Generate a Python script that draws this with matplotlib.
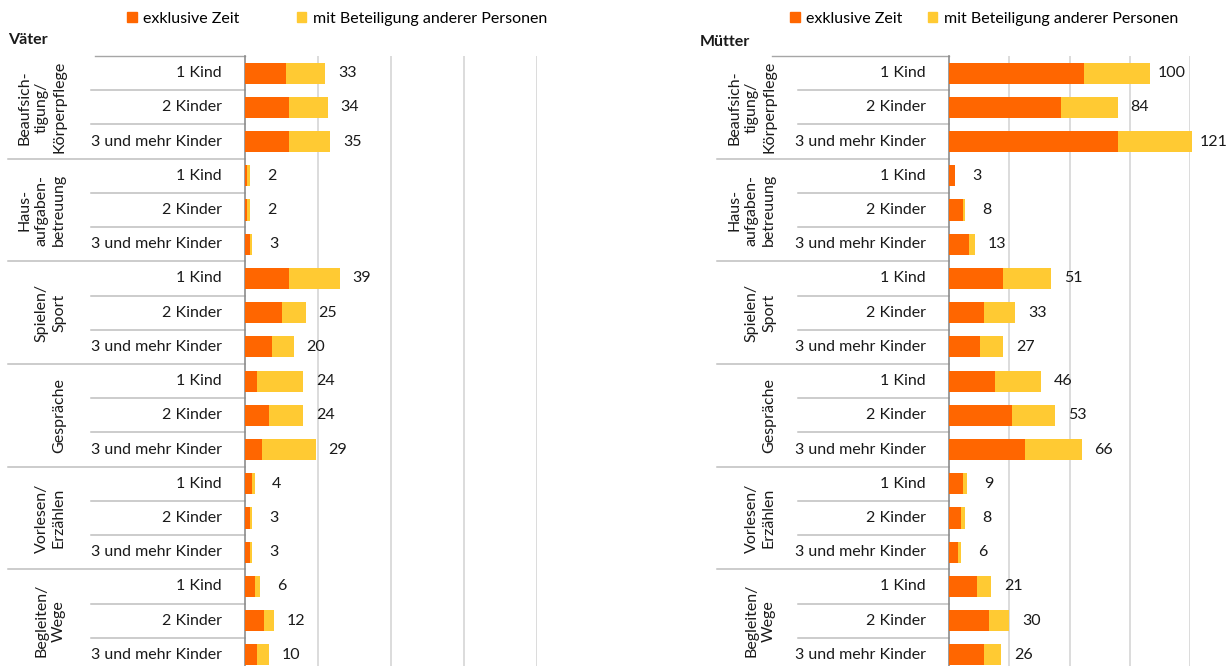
import matplotlib.pyplot as plt
from matplotlib.patches import Patch
from matplotlib.transforms import blended_transform_factory
import numpy as np

plt.rcParams['font.family'] = ['Lato', 'DejaVu Sans']

groups = ["Beaufsich-\ntigung/\nKörperpflege", "Haus-\naufgaben-\nbetreuung", "Spielen/\nSport",
          "Gespräche", "Vorlesen/\nErzählen", "Begleiten/\nWege"]
kinder = ["1 Kind", "2 Kinder", "3 und mehr Kinder"]

vaeter_total = [33, 34, 35, 2, 2, 3, 39, 25, 20, 24, 24, 29, 4, 3, 3, 6, 12, 10]
vaeter_excl = [17, 18, 18, 1, 1, 2, 18, 15, 11, 5, 10, 7, 3, 2, 2, 4, 8, 5]
muetter_total = [100, 84, 121, 3, 8, 13, 51, 33, 27, 46, 53, 66, 9, 8, 6, 21, 30, 26]
muetter_excl = [67, 56, 84, 3, 7, 10, 27, 17.5, 15.5, 23, 31.5, 38, 7, 6, 4.5, 14, 20, 17.5]

ORANGE = '#FF6600'
YELLOW = '#FFCA33'
W, H = 1232, 666

fig = plt.figure(figsize=(W / 100, H / 100), dpi=100)


def panel(left_px, right_px, title, title_x, title_y, excl, total,
          top_start, row_start, grp_start, grp_right, lab_right, leg_x, leg_spacing):
    top, bottom = 56, 672
    ax = fig.add_axes([left_px / W, (H - bottom) / H, (right_px - left_px) / W, (bottom - top) / H])
    n = len(total)
    y = np.arange(n) + 0.5
    excl = np.array(excl, dtype=float)
    other = np.array(total, dtype=float) - excl
    ax.barh(y, excl, height=0.62, color=ORANGE, zorder=3, clip_on=False)
    ax.barh(y, other, left=excl, height=0.62, color=YELLOW, zorder=3, clip_on=False)
    for yy, t in zip(y, total):
        ax.annotate(str(t), xy=(t, yy), xytext=(22, 0), textcoords='offset pixels',
                    ha='center', va='center', fontsize=11.5, color='#1a1a1a',
                    annotation_clip=False)
    ax.set_xlim(0, 120)
    ax.set_ylim(n, 0)
    ax.set_xticks([30, 60, 90, 120])
    ax.xaxis.grid(True, color='#D9D9D9', lw=1.3, zorder=0)
    ax.tick_params(left=False, bottom=False, labelleft=False, labelbottom=False)
    for s in ['top', 'right', 'bottom']:
        ax.spines[s].set_visible(False)
    ax.spines['left'].set_color('#8C8C8C')
    ax.spines['left'].set_linewidth(1.2)

    tr = blended_transform_factory(fig.transFigure, ax.transData)
    ax_x = left_px / W
    # table lines
    ax.plot([top_start / W, ax_x], [0, 0], transform=tr, color='#A6A6A6', lw=1, clip_on=False)
    for b in range(1, n):
        x0 = grp_start if b % 3 == 0 else row_start
        ax.plot([x0 / W, ax_x], [b, b], transform=tr, color='#BFBFBF', lw=1.1, clip_on=False)
    for i, k in enumerate(y):
        ax.text(lab_right / W, k, kinder[i % 3], transform=tr, ha='right', va='center',
                fontsize=11.5, color='#1a1a1a')
    for g, name in enumerate(groups):
        ax.text(grp_right / W, g * 3 + 1.5, name, transform=tr, rotation=90, ha='right',
                va='center', multialignment='center', fontsize=11.5, color='#1a1a1a',
                linespacing=1.3)
    fig.text(title_x / W, 1 - title_y / H, title, fontsize=11.5, fontweight='bold',
             ha='left', va='center', color='#1a1a1a')
    handles = [Patch(color=ORANGE, label='exklusive Zeit'),
               Patch(color=YELLOW, label='mit Beteiligung anderer Personen')]
    fig.legend(handles=handles, loc='center left', bbox_to_anchor=(leg_x / W, 1 - 19 / H),
               ncol=2, frameon=False, fontsize=11.5, handlelength=0.6, handleheight=0.6,
               handletextpad=0.4, columnspacing=leg_spacing, borderpad=0, borderaxespad=0)
    return ax


panel(245, 537, 'Väter', 8, 40, vaeter_excl, vaeter_total,
      top_start=95, row_start=91, grp_start=8, grp_right=66, lab_right=222,
      leg_x=127, leg_spacing=3.6)
panel(949, 1190, 'Mütter', 700, 42, muetter_excl, muetter_total,
      top_start=772, row_start=798, grp_start=717, grp_right=776, lab_right=926,
      leg_x=790, leg_spacing=1.6)

fig.savefig('out.png', dpi=100)
